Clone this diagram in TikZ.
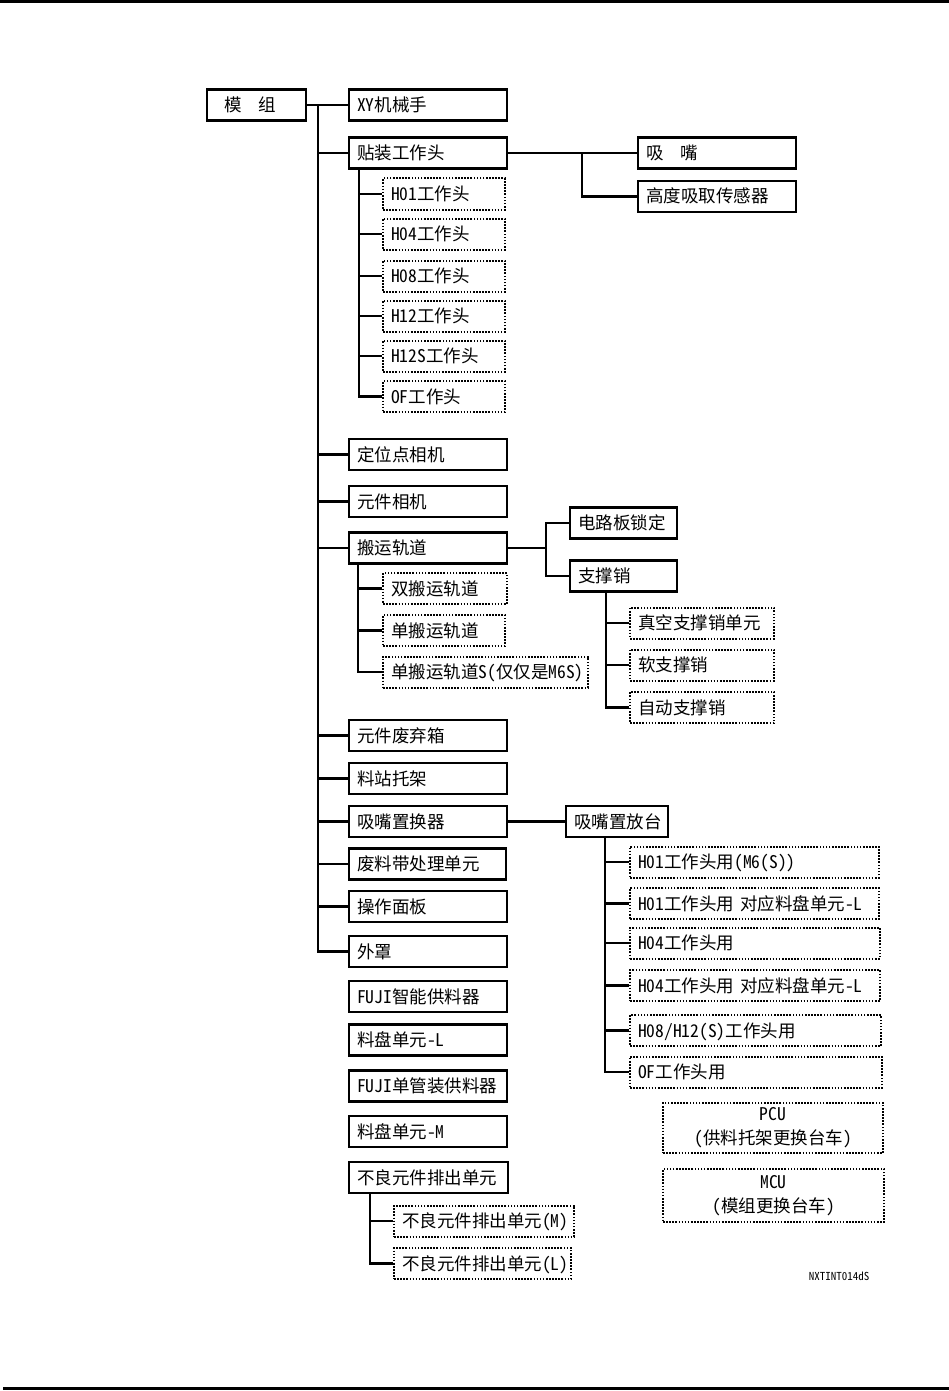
\documentclass[tikz,border=0pt]{standalone}
\usepackage{fontspec}
\setmainfont{Noto Sans CJK SC}[RawFeature=+hwid]
\begin{document}
\begin{tikzpicture}[x=1pt,y=-1pt,
  base/.style={font=\fontsize{17.5}{24}\selectfont, inner xsep=8pt, inner ysep=0pt, anchor=west, align=left},
  sbox/.style={base, draw, line width=2.4pt, minimum height=31pt, text height=13pt, text depth=0pt, text width=#1},
  dots/.style={draw, line width=2pt, dash pattern=on 1.6pt off 1.5pt},
  dbox/.style={base, dots, minimum height=31pt, text height=13pt, text depth=0pt, text width=#1},
  cbox/.style={base, dots, align=center, text width=#1, minimum height=50pt},
  conn/.style={line width=2.3pt},
  rule/.style={line width=3pt},
  code/.style={font=\fontsize{11}{12}\selectfont, inner sep=0pt}
]
\useasboundingbox (0,0) rectangle (949,1391);
\draw[rule] (0,1.5) -- (949,1.5);
\draw[rule] (3,1388.5) -- (949,1388.5);

% main column
\node[sbox=65pt, inner xsep=17pt] (mz) at (206,105) {模\hspace{17pt}组};
\node[sbox=142pt] (xy) at (348,105) {XY机械手};
\node[sbox=142pt] (tt) at (348,153) {贴装工作头};
\node[sbox=142pt] (xz) at (637,153) {吸\hspace{17pt}嘴};
\node[sbox=142pt] (gd) at (637,196.5) {高度吸取传感器};
\node[dbox=106pt] (h01) at (382,194) {H01工作头};
\node[dbox=106pt] (h04) at (382,234) {H04工作头};
\node[dbox=106pt] (h08) at (382,276) {H08工作头};
\node[dbox=106pt] (h12) at (382,316) {H12工作头};
\node[dbox=106pt] (h12s) at (382,356) {H12S工作头};
\node[dbox=106pt] (of) at (382,396.5) {OF工作头};
\node[sbox=142pt] (dw) at (348,454.5) {定位点相机};
\node[sbox=142pt] (yj) at (348,501.5) {元件相机};
\node[sbox=142pt] (by) at (348,548) {搬运轨道};
\node[sbox=91pt] (dl) at (569,523) {电路板锁定};
\node[sbox=91pt] (zc) at (569,576) {支撑销};
\node[dbox=108pt] (sb) at (382,588.5) {双搬运轨道};
\node[dbox=106pt] (db) at (382,630.5) {单搬运轨道};
\node[dbox=189pt] (dbs) at (382,672) {单搬运轨道S(仅仅是M6S)};
\node[dbox=128pt] (zk) at (629,623) {真空支撑销单元};
\node[dbox=128pt] (rz) at (629,665) {软支撑销};
\node[dbox=128pt] (zd) at (629,707.5) {自动支撑销};
\node[sbox=142pt] (fq) at (348,735.5) {元件废弃箱};
\node[sbox=142pt] (lz) at (348,778.5) {料站托架};
\node[sbox=142pt] (zh) at (348,821.5) {吸嘴置换器};
\node[sbox=86pt] (zf) at (565,821.5) {吸嘴置放台};
\node[sbox=141pt] (fl) at (348,864) {废料带处理单元};
\node[sbox=142pt] (cz) at (348,906.5) {操作面板};
\node[sbox=142pt] (wz) at (348,951.5) {外罩};
\node[dbox=233pt] (n1) at (629,862) {H01工作头用(M6(S))};
\node[dbox=233pt] (n2) at (629,903.5) {H01工作头用 对应料盘单元-L};
\node[dbox=234pt] (n3) at (629,943) {H04工作头用};
\node[dbox=234pt] (n4) at (629,985.5) {H04工作头用 对应料盘单元-L};
\node[dbox=235pt] (n5) at (629,1030.5) {H08/H12(S)工作头用};
\node[dbox=236pt] (n6) at (629,1072) {OF工作头用};
\node[sbox=142pt] (fj) at (348,996.5) {FUJI智能供料器};
\node[sbox=142pt] (lpl) at (348,1040) {料盘单元-L};
\node[sbox=142pt] (fd) at (348,1086) {FUJI单管装供料器};
\node[sbox=142pt] (lpm) at (348,1131.5) {料盘单元-M};
\node[sbox=143pt] (bl) at (348,1177.5) {不良元件排出单元};
\node[dbox=164pt] (bm) at (393,1221) {不良元件排出单元(M)};
\node[dbox=161pt] (bll) at (393,1263.5) {不良元件排出单元(L)};
\node[cbox=204pt] (pcu) at (662,1128) {PCU\\(供料托架更换台车)};
\node[cbox=205pt, minimum height=53pt] (mcu) at (662,1195.5) {MCU\\(模组更换台车)};
\node[code] (id) at (839,1276) {NXTINT014dS};

% connectors
\coordinate (T) at (318,105);
\draw[conn] (mz.east) -- (xy.west);
\draw[conn] (T) |- (wz.west);
\foreach \n in {tt,dw,yj,by,fq,lz,zh,fl,cz} \draw[conn] (\n.west) -- (\n.west -| T);

\coordinate (J1) at (582,153);
\draw[conn] (tt.east) -- (xz.west);
\draw[conn] (J1) |- (gd.west);

\coordinate (T2) at (359,168.5);
\draw[conn] (T2) |- (of.west);
\foreach \n in {h01,h04,h08,h12,h12s} \draw[conn] (\n.west) -- (\n.west -| T2);

\coordinate (J2) at (546,548);
\draw[conn] (by.east) -- (J2);
\draw[conn] (dl.west) -| (J2) |- (zc.west);

\coordinate (T3) at (358,563.5);
\draw[conn] (T3) |- (dbs.west);
\foreach \n in {sb,db} \draw[conn] (\n.west) -- (\n.west -| T3);

\coordinate (T4) at (606,591.5);
\draw[conn] (T4) |- (zd.west);
\foreach \n in {zk,rz} \draw[conn] (\n.west) -- (\n.west -| T4);

\draw[conn] (zh.east) -- (zf.west);
\coordinate (T5) at (605,837.5);
\draw[conn] (T5) |- (n6.west);
\foreach \n in {n1,n2,n3,n4,n5} \draw[conn] (\n.west) -- (\n.west -| T5);

\coordinate (T6) at (370,1193.5);
\draw[conn] (T6) |- (bll.west);
\draw[conn] (bm.west) -- (bm.west -| T6);
\end{tikzpicture}
\end{document}
